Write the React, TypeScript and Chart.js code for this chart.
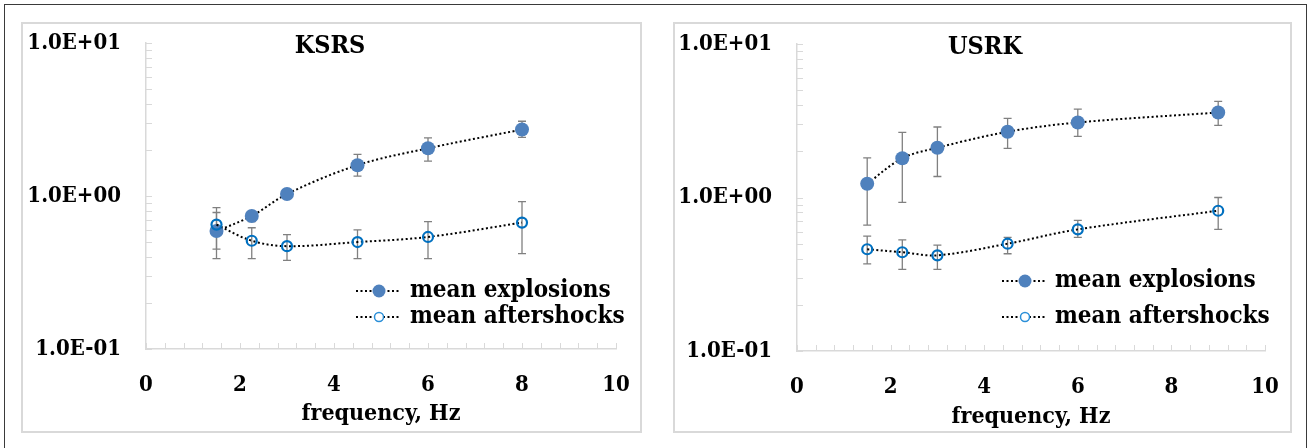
import React, { useEffect, useRef } from 'react';
import { Chart, registerables } from 'chart.js';

Chart.register(...registerables);

const FONT = "'DejaVu Serif Condensed', 'DejaVu Serif', serif";

// ---------- data ----------
const ksrsFreq = [1.5, 2.25, 3, 4.5, 6, 8];
const ksrsExplMean = [0.59, 0.74, 1.03, 1.59, 2.05, 2.72];
const ksrsExplLow = [0.45, 0.68, 0.97, 1.35, 1.69, 2.42];
const ksrsExplHigh = [0.78, 0.79, 1.09, 1.87, 2.4, 3.08];
const ksrsAftMean = [0.65, 0.51, 0.47, 0.5, 0.54, 0.67];
const ksrsAftLow = [0.39, 0.39, 0.38, 0.39, 0.39, 0.42];
const ksrsAftHigh = [0.84, 0.62, 0.56, 0.6, 0.68, 0.92];

const usrkFreq = [1.5, 2.25, 3, 4.5, 6, 9];
const usrkExplMean = [1.23, 1.8, 2.11, 2.68, 3.08, 3.58];
const usrkExplLow = [0.66, 0.93, 1.37, 2.09, 2.5, 2.95];
const usrkExplHigh = [1.81, 2.66, 2.88, 3.28, 3.77, 4.23];
const usrkAftMean = [0.46, 0.44, 0.42, 0.5, 0.62, 0.82];
const usrkAftLow = [0.37, 0.34, 0.34, 0.43, 0.55, 0.62];
const usrkAftHigh = [0.56, 0.53, 0.49, 0.55, 0.71, 1.0];

const xTickValues = [0, 2, 4, 6, 8, 10];
const yTickValues = [0.1, 1, 10];
const yTickLabels = ['1.0E-01', '1.0E+00', '1.0E+01'];
const seriesNames = ['mean explosions', 'mean aftershocks'];
const xAxisTitle = 'frequency, Hz';

const EXPL_COLOR = '#4f81bd';
const AFT_COLOR = '#0070c0';
const AXIS_COLOR = '#d9d9d9';
const ERR_COLOR = '#808080';

type PanelSpec = {
  title: string;
  freq: number[];
  explMean: number[];
  explLow: number[];
  explHigh: number[];
  aftMean: number[];
  aftLow: number[];
  aftHigh: number[];
  left: number;
  top: number;
  width: number;
  height: number;
  pad: { left: number; top: number; right: number; bottom: number };
  titlePos: { x: number; y: number };
  axisTitleY: number;
  legend: { x0: number; x1: number; mx: number; textX: number; y1: number; y2: number };
};

const panels: PanelSpec[] = [
  {
    title: 'KSRS',
    freq: ksrsFreq,
    explMean: ksrsExplMean,
    explLow: ksrsExplLow,
    explHigh: ksrsExplHigh,
    aftMean: ksrsAftMean,
    aftLow: ksrsAftLow,
    aftHigh: ksrsAftHigh,
    left: 22,
    top: 23,
    width: 619,
    height: 409,
    pad: { left: 124, top: 20, right: 25, bottom: 83 },
    titlePos: { x: 330, y: 46 },
    axisTitleY: 414,
    legend: { x0: 356, x1: 401, mx: 379, textX: 410, y1: 291, y2: 317 },
  },
  {
    title: 'USRK',
    freq: usrkFreq,
    explMean: usrkExplMean,
    explLow: usrkExplLow,
    explHigh: usrkExplHigh,
    aftMean: usrkAftMean,
    aftLow: usrkAftLow,
    aftHigh: usrkAftHigh,
    left: 674,
    top: 23,
    width: 617,
    height: 409,
    pad: { left: 123, top: 21, right: 26, bottom: 81 },
    titlePos: { x: 985, y: 47 },
    axisTitleY: 417,
    legend: { x0: 1002, x1: 1047, mx: 1025, textX: 1055, y1: 281, y2: 317 },
  },
];

function drawDotted(ctx: CanvasRenderingContext2D, x0: number, x1: number, y: number) {
  ctx.save();
  ctx.strokeStyle = '#000';
  ctx.lineWidth = 2;
  ctx.setLineDash([2, 2.5]);
  ctx.beginPath();
  ctx.moveTo(x0, y);
  ctx.lineTo(x1, y);
  ctx.stroke();
  ctx.restore();
}

function makePlugins(spec: PanelSpec) {
  const ox = spec.left;
  const oy = spec.top;

  const errorBars = {
    id: 'errorBars',
    beforeDatasetsDraw(chart: any) {
      const { ctx } = chart;
      const xs = chart.scales.x;
      const ys = chart.scales.y;
      ctx.save();
      ctx.strokeStyle = ERR_COLOR;
      ctx.lineWidth = 1.3;
      chart.data.datasets.forEach((ds: any) => {
        if (!ds.errLow) return;
        ds.data.forEach((pt: any, i: number) => {
          const px = xs.getPixelForValue(pt.x);
          const yl = ys.getPixelForValue(ds.errLow[i]);
          const yh = ys.getPixelForValue(ds.errHigh[i]);
          ctx.beginPath();
          ctx.moveTo(px, yl);
          ctx.lineTo(px, yh);
          ctx.moveTo(px - 4, yl);
          ctx.lineTo(px + 4, yl);
          ctx.moveTo(px - 4, yh);
          ctx.lineTo(px + 4, yh);
          ctx.stroke();
        });
      });
      ctx.restore();
    },
  };

  const minorTicks = {
    id: 'minorTicks',
    beforeDatasetsDraw(chart: any) {
      const { ctx, chartArea } = chart;
      const xs = chart.scales.x;
      const ys = chart.scales.y;
      ctx.save();
      ctx.strokeStyle = AXIS_COLOR;
      ctx.lineWidth = 1;
      ctx.beginPath();
      for (let i = 0; i <= 25; i++) {
        const px = Math.round(xs.getPixelForValue(i * 0.4)) + 0.5;
        ctx.moveTo(px, chartArea.bottom);
        ctx.lineTo(px, chartArea.bottom - 6);
      }
      const decades = [0.1, 1];
      decades.forEach((d) => {
        for (let m = 1; m <= 9; m++) {
          const py = Math.round(ys.getPixelForValue(m * d)) + 0.5;
          ctx.moveTo(chartArea.left, py);
          ctx.lineTo(chartArea.left + 6, py);
        }
      });
      const pt = Math.round(ys.getPixelForValue(10)) + 0.5;
      ctx.moveTo(chartArea.left, pt);
      ctx.lineTo(chartArea.left + 6, pt);
      ctx.stroke();
      ctx.restore();
    },
  };

  const annotations = {
    id: 'annotations',
    afterDraw(chart: any) {
      const { ctx, chartArea } = chart;
      ctx.save();
      ctx.fillStyle = '#000';
      ctx.textBaseline = 'middle';
      // title
      ctx.textAlign = 'center';
      ctx.font = `bold 25px ${FONT}`;
      ctx.fillText(spec.title, spec.titlePos.x - ox, spec.titlePos.y - oy);
      // axis title
      ctx.font = `bold 23px ${FONT}`;
      ctx.fillText(xAxisTitle, (chartArea.left + chartArea.right) / 2, spec.axisTitleY - oy);
      // legend
      const L = spec.legend;
      const rows = [L.y1 - oy, L.y2 - oy];
      rows.forEach((ry, idx) => {
        drawDotted(ctx, L.x0 - ox, L.x1 - ox, ry);
        ctx.beginPath();
        if (idx === 0) {
          ctx.fillStyle = EXPL_COLOR;
          ctx.arc(L.mx - ox, ry, 6.5, 0, Math.PI * 2);
          ctx.fill();
        } else {
          ctx.fillStyle = '#fff';
          ctx.arc(L.mx - ox, ry, 4.5, 0, Math.PI * 2);
          ctx.fill();
          ctx.strokeStyle = '#2a8fd8';
          ctx.lineWidth = 1.5;
          ctx.stroke();
        }
        ctx.fillStyle = '#000';
        ctx.textAlign = 'left';
        ctx.font = `bold 24px ${FONT}`;
        ctx.fillText(seriesNames[idx], L.textX - ox, ry);
      });
      ctx.restore();
    },
  };

  return [errorBars, minorTicks, annotations];
}

function makeConfig(spec: PanelSpec): any {
  const explPts = spec.freq.map((f, i) => ({ x: f, y: spec.explMean[i] }));
  const aftPts = spec.freq.map((f, i) => ({ x: f, y: spec.aftMean[i] }));
  return {
    type: 'line',
    data: {
      datasets: [
        {
          label: seriesNames[1],
          data: aftPts,
          errLow: spec.aftLow,
          errHigh: spec.aftHigh,
          order: 0,
          borderColor: '#000',
          borderWidth: 2,
          borderDash: [2, 2.5],
          tension: 0.35,
          fill: false,
          pointRadius: 5,
          pointBorderWidth: 2.2,
          pointBackgroundColor: 'rgba(255,255,255,0)',
          pointBorderColor: AFT_COLOR,
        },
        {
          label: seriesNames[0],
          data: explPts,
          errLow: spec.explLow,
          errHigh: spec.explHigh,
          order: 1,
          borderColor: '#000',
          borderWidth: 2,
          borderDash: [2, 2.5],
          tension: 0.35,
          fill: false,
          pointRadius: 7,
          pointBorderWidth: 0,
          pointBackgroundColor: EXPL_COLOR,
          pointBorderColor: EXPL_COLOR,
        },
      ],
    },
    options: {
      animation: false,
      responsive: true,
      maintainAspectRatio: false,
      events: [],
      layout: {
        padding: { left: 0, top: spec.pad.top, right: spec.pad.right, bottom: 0 },
      },
      plugins: {
        legend: { display: false },
        tooltip: { enabled: false },
        title: { display: false },
      },
      scales: {
        x: {
          type: 'linear',
          min: 0,
          max: 10,
          afterFit: (s: any) => {
            s.height = spec.pad.bottom;
            s.paddingLeft = 0;
            s.paddingRight = 0;
            s.paddingTop = 0;
            s.paddingBottom = 0;
          },
          afterBuildTicks: (s: any) => {
            s.ticks = xTickValues.map((v) => ({ value: v }));
          },
          grid: { display: true, drawOnChartArea: false, drawTicks: false },
          border: { display: true, color: AXIS_COLOR, width: 1.5 },
          ticks: {
            padding: 23,
            color: '#000',
            font: { family: FONT, size: 22, weight: 'bold' },
            maxRotation: 0,
            callback: (v: any) => String(v),
          },
        },
        y: {
          type: 'logarithmic',
          min: 0.1,
          max: 10,
          afterFit: (s: any) => {
            s.width = spec.pad.left;
            s.paddingLeft = 0;
            s.paddingRight = 0;
            s.paddingTop = 0;
            s.paddingBottom = 0;
          },
          afterBuildTicks: (s: any) => {
            s.ticks = yTickValues.map((v) => ({ value: v }));
          },
          grid: { display: true, drawOnChartArea: false, drawTicks: false },
          border: { display: true, color: AXIS_COLOR, width: 1.5 },
          ticks: {
            padding: 25,
            color: '#000',
            font: { family: FONT, size: 22, weight: 'bold' },
            callback: (v: any) => {
              const idx = yTickValues.findIndex((t) => Math.abs(t - v) < 1e-9);
              return idx >= 0 ? yTickLabels[idx] : '';
            },
          },
        },
      },
    },
    plugins: makePlugins(spec),
  };
}

function Panel({ spec }: { spec: PanelSpec }) {
  const ref = useRef<HTMLCanvasElement | null>(null);
  useEffect(() => {
    if (!ref.current) return;
    const chart = new Chart(ref.current, makeConfig(spec));
    return () => chart.destroy();
  }, [spec]);
  return (
    <>
      <div
        style={{
          position: 'absolute',
          left: spec.left - 1,
          top: spec.top - 1,
          width: spec.width + 2,
          height: spec.height + 2,
          border: `2px solid ${AXIS_COLOR}`,
          boxSizing: 'border-box',
          background: '#fff',
        }}
      />
      <div
        style={{
          position: 'absolute',
          left: spec.left,
          top: spec.top,
          width: spec.width,
          height: spec.height,
        }}
      >
        <canvas ref={ref} />
      </div>
    </>
  );
}

export default function App() {
  return (
    <div
      style={{
        position: 'absolute',
        left: 0,
        top: 0,
        width: 1312,
        height: 448,
        background: '#fff',
        overflow: 'hidden',
      }}
    >
      <div
        style={{
          position: 'absolute',
          left: 4,
          top: 4,
          width: 1303,
          height: 460,
          borderLeft: '1.5px solid #3a3a3a',
          borderTop: '1.5px solid #3a3a3a',
          borderRight: '1.5px solid #3a3a3a',
          boxSizing: 'border-box',
        }}
      />
      {panels.map((p) => (
        <Panel key={p.title} spec={p} />
      ))}
    </div>
  );
}
